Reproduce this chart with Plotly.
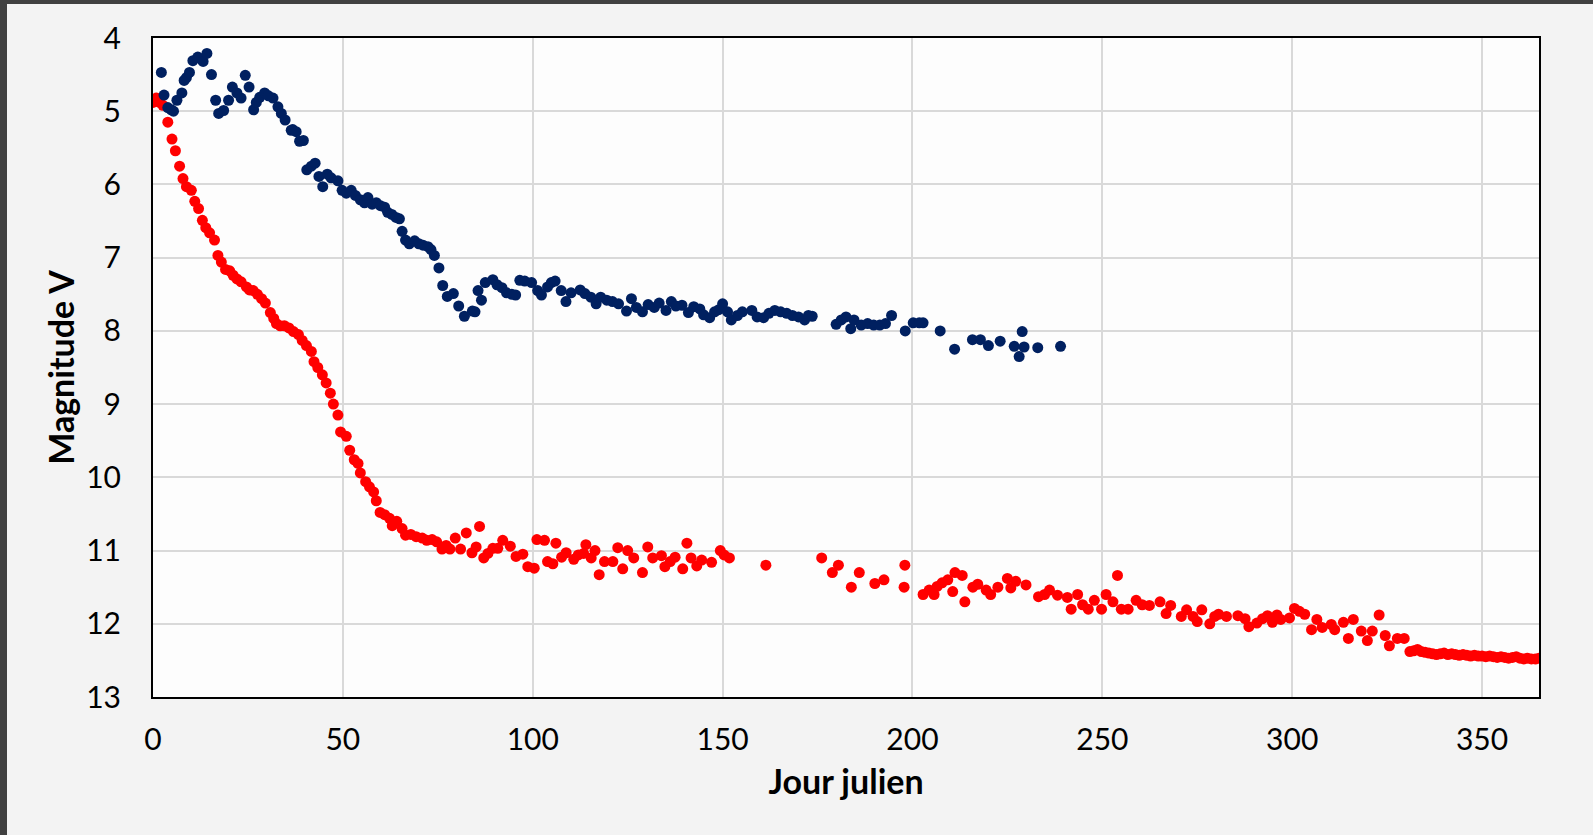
import plotly.graph_objects as go

# Light curves: V magnitude versus Julian day
days_blue = [
    2.2, 2.9, 3.9, 4.8, 5.4, 6.3, 7.6, 8.2, 8.8, 9.6, 10.5, 11.8, 13.2, 14.2, 15.4,
    16.5, 17.3, 18.6, 19.9, 20.9, 22.1, 23.2, 24.3, 25.3, 26.5, 27.2, 28.1, 29.4,
    30.4, 31.6, 32.9, 33.8, 34.8, 36.4, 36.8, 37.7, 38.6, 39.6, 40.5, 41.7, 42.7,
    43.7, 44.7, 45.9, 46.9, 48.7, 49.8, 50.9, 52.2, 53.3, 54.6, 55.7, 56.6, 57.7,
    58.8, 59.9, 61.0, 61.8, 62.9, 64.0, 64.9, 65.6, 66.5, 67.5, 68.9, 70.0, 71.1,
    72.4, 73.2, 74.1, 75.3, 76.3, 77.5, 79.1, 80.5,
    82.0, 84.1, 84.8, 85.6, 86.5, 87.5, 89.5, 90.6, 91.9, 93.1, 94.5, 95.5, 96.6,
    97.9, 99.7, 101.3, 102.3, 103.9, 104.9, 105.9, 107.5, 108.75, 110.1, 112.5,
    113.75, 115.3, 116.7, 117.9, 119.5, 121.0, 122.6, 124.7, 126.0, 127.3, 128.9,
    130.4, 132.0, 133.3, 135.1, 136.5, 137.7, 139.3, 141.0, 142.4, 144.0, 145.0,
    146.6, 147.9, 149.0, 150.0, 151.3, 152.3, 153.9, 155.2, 157.7, 159.1, 160.8,
    162.2, 163.75, 165.3, 166.9, 168.4, 170.0, 171.6, 172.6, 173.6,
    179.9, 181.25, 182.5, 183.75, 184.6, 186.5, 188.2, 189.8, 191.4, 192.9, 194.5,
    198.1, 200.2, 201.8, 202.8, 207.3, 211.1, 215.8, 217.9, 220.0, 223.1, 226.8,
    228.1, 228.9, 229.4, 233.0, 239.0,
]
mag_blue = [
    4.47, 4.78, 4.95, 4.98, 5.00, 4.85, 4.75, 4.58, 4.54, 4.47, 4.31, 4.26, 4.32, 4.21, 4.50,
    4.85, 5.03, 4.99, 4.85, 4.67, 4.75, 4.82, 4.51, 4.67, 4.98, 4.88, 4.81, 4.75,
    4.79, 4.82, 4.94, 5.03, 5.12, 5.26, 5.25, 5.28, 5.41, 5.40, 5.80, 5.75, 5.71,
    5.89, 6.03, 5.86, 5.91, 5.95, 6.08, 6.12, 6.08, 6.15, 6.21, 6.25, 6.18, 6.27,
    6.25, 6.29, 6.31, 6.38, 6.41, 6.45, 6.47, 6.64, 6.76, 6.81, 6.77, 6.81, 6.83,
    6.85, 6.89, 6.97, 7.14, 7.38, 7.53, 7.49, 7.66,
    7.80, 7.73, 7.74, 7.45, 7.58, 7.34, 7.30, 7.37, 7.41, 7.48, 7.50, 7.51, 7.31,
    7.32, 7.34, 7.45, 7.51, 7.40, 7.34, 7.32, 7.45, 7.60, 7.48, 7.44,
    7.49, 7.54, 7.63, 7.54, 7.58, 7.60, 7.63, 7.73, 7.56, 7.68, 7.74,
    7.64, 7.68, 7.62, 7.72, 7.60, 7.66, 7.65, 7.75, 7.67, 7.70, 7.78,
    7.82, 7.74, 7.71, 7.63, 7.74, 7.85, 7.79, 7.74, 7.72, 7.81, 7.82,
    7.76, 7.72, 7.74, 7.76, 7.79, 7.81, 7.85, 7.79, 7.80,
    7.91, 7.85, 7.81, 7.97, 7.85, 7.92, 7.90, 7.92, 7.92, 7.90, 7.79,
    8.00, 7.89, 7.89, 7.89, 8.00, 8.25, 8.12, 8.12, 8.20, 8.14, 8.21,
    8.35, 8.01, 8.22, 8.23, 8.21,
]

days_red = [
    0.0, 0.9, 1.75, 2.6, 3.9, 5.0, 5.9, 7.0, 7.9, 8.8, 10.1, 11.0, 12.0, 13.0, 13.9,
    14.9, 16.2, 17.1, 18.0, 19.1, 20.2, 21.1, 22.1, 23.2, 24.6, 25.4, 26.4, 27.5,
    28.6, 29.6, 30.9, 31.8, 32.5, 33.5, 34.6, 35.8, 37.0, 38.3, 39.3, 40.4, 41.7,
    42.4, 43.4, 44.6, 45.6, 46.7, 47.5, 48.7, 49.4, 50.9, 51.8, 53.0, 54.0, 54.6,
    56.0, 57.0, 58.1, 58.8, 59.8, 61.0, 62.3, 63.0, 64.2, 65.6, 66.5, 67.9, 69.3,
    70.9, 72.1, 73.5, 74.7, 76.1, 77.2, 78.2,
    79.6, 81.0, 82.5, 84.0, 85.1, 86.0, 87.1, 88.2, 89.5, 90.8, 92.1, 94.1, 95.6,
    97.4, 98.7, 100.4, 101.1, 103.1, 103.9, 105.3, 106.1, 107.6, 108.8, 110.8,
    112.0, 113.4, 114.0, 115.4, 116.4, 117.5, 118.9, 121.1, 122.4, 123.7, 125.0,
    126.6, 128.9, 130.3, 131.6, 133.9, 134.8, 136.2, 137.5, 139.5, 140.6, 141.7,
    143.2, 144.5, 147.1, 149.4, 150.4, 151.8, 161.4, 176.1, 178.9, 180.5, 183.9,
    186.0, 190.1, 192.5, 197.8, 198.0,
    202.8, 204.4, 205.7, 206.5, 207.8, 209.3, 210.6, 211.2, 213.1, 213.8, 215.9,
    217.2, 219.4, 220.6, 222.5, 225.0, 225.9, 227.2, 229.9, 233.2, 234.8, 236.1,
    238.2, 240.8, 241.8, 243.5, 244.8, 246.3, 247.9, 249.8, 251.0, 252.8, 254.0,
    255.0, 256.8, 258.9, 260.5, 262.4, 265.2, 266.8, 268.0, 270.8, 272.2, 273.9,
    275.0, 276.2, 278.3, 279.6, 280.6, 282.7, 285.7, 287.6, 288.6, 290.7, 292.2,
    293.5, 294.8, 296.0, 297.0, 299.3, 300.6, 301.9, 303.3, 305.1, 306.5, 307.9,
    310.3, 311.2, 313.5, 314.8, 316.1, 318.2, 319.8, 321.1, 322.9, 324.5, 325.6,
    327.7, 329.5,
    331, 332, 333, 334, 335, 336, 337, 338, 339, 340, 341, 342, 343, 344, 345, 346,
    347, 348, 349, 350, 351, 352, 353, 354, 355, 356, 357, 358, 359, 360, 361, 362,
    363, 364, 365,
]
mag_red = [
    4.88, 4.82, 4.88, 4.92, 5.15, 5.38, 5.54, 5.75, 5.92, 6.03, 6.08, 6.23, 6.33, 6.49, 6.59,
    6.66, 6.76, 6.97, 7.06, 7.16, 7.18, 7.24, 7.29, 7.33, 7.40, 7.44, 7.45, 7.50,
    7.56, 7.62, 7.75, 7.83, 7.90, 7.93, 7.93, 7.96, 8.01, 8.05, 8.13, 8.20, 8.28,
    8.42, 8.50, 8.60, 8.71, 8.85, 9.00, 9.15, 9.38, 9.44, 9.63, 9.76, 9.81, 9.94,
    10.06, 10.13, 10.20, 10.32, 10.48, 10.51, 10.56, 10.66, 10.60, 10.70, 10.79, 10.78, 10.81,
    10.83, 10.86, 10.85, 10.88, 10.98, 10.93, 10.98,
    10.83, 10.98, 10.76, 11.03, 10.95, 10.67, 11.10, 11.04, 10.97, 10.97, 10.86, 10.94, 11.08,
    11.05, 11.22, 11.24, 10.85, 10.86, 11.15, 11.18, 10.90, 11.09, 11.03, 11.12,
    11.06, 11.04, 10.92, 11.10, 11.00, 11.33, 11.15, 11.15, 10.96, 11.25, 11.00,
    11.10, 11.30, 10.95, 11.10, 11.07, 11.22, 11.15, 11.09, 11.25, 10.90, 11.10,
    11.21, 11.13, 11.16, 11.00, 11.06, 11.10, 11.20, 11.10, 11.30, 11.20, 11.50,
    11.30, 11.45, 11.40, 11.50, 11.20,
    11.60, 11.54, 11.60, 11.49, 11.44, 11.40, 11.56, 11.30, 11.34, 11.70, 11.50,
    11.46, 11.54, 11.60, 11.50, 11.38, 11.51, 11.42, 11.47, 11.63, 11.60, 11.54,
    11.61, 11.64, 11.80, 11.60, 11.74, 11.80, 11.68, 11.80, 11.60, 11.70, 11.34,
    11.80, 11.80, 11.68, 11.74, 11.75, 11.70, 11.86, 11.75, 11.90, 11.81, 11.90,
    11.97, 11.81, 12.00, 11.90, 11.87, 11.90, 11.89, 11.93, 12.04, 11.99, 11.93,
    11.89, 11.98, 11.88, 11.94, 11.92, 11.79, 11.83, 11.87, 12.08, 11.94, 12.05,
    12.01, 12.08, 11.98, 12.20, 11.94, 12.10, 12.23, 12.10, 11.88, 12.16, 12.30,
    12.20, 12.20,
    12.38, 12.37, 12.35, 12.38, 12.39, 12.40, 12.41, 12.42, 12.41, 12.40, 12.42, 12.41,
    12.42, 12.43, 12.42, 12.43, 12.44, 12.43, 12.44, 12.44, 12.45, 12.44, 12.45, 12.46,
    12.45, 12.46, 12.47, 12.46, 12.45, 12.47, 12.48, 12.47, 12.48, 12.48, 12.47,
]

x_ticks = [0, 50, 100, 150, 200, 250, 300, 350]
y_ticks = [4, 5, 6, 7, 8, 9, 10, 11, 12, 13]

FONT = "Lato"

fig = go.Figure()
fig.add_trace(go.Scatter(
    x=days_red, y=mag_red, mode="markers",
    marker=dict(color="#ff0000", size=11, line=dict(width=0)),
    showlegend=False, hoverinfo="x+y",
))
fig.add_trace(go.Scatter(
    x=days_blue, y=mag_blue, mode="markers",
    marker=dict(color="#002060", size=11, line=dict(width=0)),
    showlegend=False, hoverinfo="x+y",
))

W, H = 1593, 835
ml, mr, mt, mb = 153, 54, 38, 138
pw, ph = W - ml - mr, H - mt - mb

def px_x(v):
    return (v - ml) / pw

def px_y(v):
    return (H - mb - v) / ph

# dark frame strips along the left and top edges of the page
fig.add_shape(type="rect", xref="paper", yref="paper",
              x0=px_x(0), x1=px_x(7), y0=px_y(H), y1=px_y(0),
              fillcolor="#404040", line=dict(width=0), layer="above")
fig.add_shape(type="rect", xref="paper", yref="paper",
              x0=px_x(0), x1=px_x(W), y0=px_y(4), y1=px_y(0),
              fillcolor="#404040", line=dict(width=0), layer="above")

fig.update_layout(
    width=W, height=H,
    margin=dict(l=ml, r=mr, t=mt, b=mb),
    paper_bgcolor="#f3f3f3",
    plot_bgcolor="#fdfdfd",
    font=dict(family=FONT, color="#000000"),
    xaxis=dict(
        range=[0, 365], tickvals=x_ticks, ticktext=[str(v) for v in x_ticks],
        showgrid=True, gridcolor="#d9d9d9", gridwidth=2,
        showline=True, linecolor="#000000", linewidth=2, mirror=True,
        zeroline=False, ticks="", ticklabelstandoff=15,
        tickfont=dict(family=FONT, size=30, color="#000000"),
        title=dict(text="<b>Jour julien</b>", standoff=15,
                   font=dict(family=FONT, size=34, color="#000000")),
    ),
    yaxis=dict(
        range=[13, 4], tickvals=y_ticks, ticktext=[str(v) for v in y_ticks],
        showgrid=True, gridcolor="#d9d9d9", gridwidth=2,
        showline=True, linecolor="#000000", linewidth=2, mirror=True,
        zeroline=False, ticks="", ticklabelstandoff=24,
        tickfont=dict(family=FONT, size=30, color="#000000"),
        title=dict(text="<b>Magnitude V</b>", standoff=1,
                   font=dict(family=FONT, size=34, color="#000000")),
    ),
)

fig.write_html("out.html")
